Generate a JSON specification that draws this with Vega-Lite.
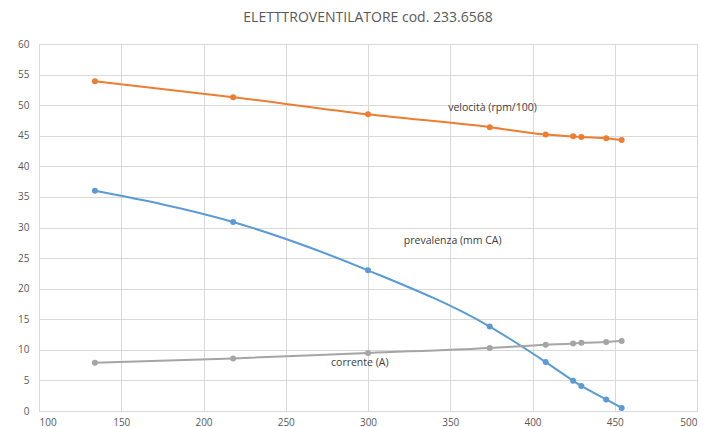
{
  "$schema": "https://vega.github.io/schema/vega-lite/v6.json",
  "autosize": {"type": "none"},
  "width": 658,
  "height": 367,
  "padding": {"left": 39, "top": 44, "right": 15, "bottom": 16},
  "background": "white",
  "title": {
    "text": "ELETTTROVENTILATORE  cod. 233.6568",
    "font": "Open Sans",
    "fontSize": 14,
    "fontWeight": "normal",
    "color": "#595959",
    "anchor": "middle",
    "offset": 14
  },
  "config": {
    "view": {"stroke": null},
    "axis": {
      "labelFont": "Open Sans",
      "labelFontSize": 10,
      "labelColor": "#595959",
      "gridColor": "#D9D9D9",
      "gridWidth": 1,
      "ticks": false,
      "title": null,
      "labelOverlap": false
    }
  },
  "datasets": {
    "series": [
      {"q": 134, "v": 53.9, "s": "velocità"},
      {"q": 218, "v": 51.3, "s": "velocità"},
      {"q": 300, "v": 48.5, "s": "velocità"},
      {"q": 374, "v": 46.4, "s": "velocità"},
      {"q": 408, "v": 45.2, "s": "velocità"},
      {"q": 424.7, "v": 44.9, "s": "velocità"},
      {"q": 429.7, "v": 44.8, "s": "velocità"},
      {"q": 444.8, "v": 44.6, "s": "velocità"},
      {"q": 454.2, "v": 44.3, "s": "velocità"},
      {"q": 134, "v": 36.0, "s": "prevalenza"},
      {"q": 218, "v": 30.9, "s": "prevalenza"},
      {"q": 300, "v": 23.0, "s": "prevalenza"},
      {"q": 374, "v": 13.8, "s": "prevalenza"},
      {"q": 408, "v": 8.0, "s": "prevalenza"},
      {"q": 424.7, "v": 4.95, "s": "prevalenza"},
      {"q": 429.7, "v": 4.1, "s": "prevalenza"},
      {"q": 444.8, "v": 1.9, "s": "prevalenza"},
      {"q": 454.2, "v": 0.5, "s": "prevalenza"},
      {"q": 134, "v": 7.9, "s": "corrente"},
      {"q": 218, "v": 8.6, "s": "corrente"},
      {"q": 300, "v": 9.5, "s": "corrente"},
      {"q": 374, "v": 10.3, "s": "corrente"},
      {"q": 408, "v": 10.85, "s": "corrente"},
      {"q": 424.7, "v": 11.05, "s": "corrente"},
      {"q": 429.7, "v": 11.15, "s": "corrente"},
      {"q": 444.8, "v": 11.27, "s": "corrente"},
      {"q": 454.2, "v": 11.43, "s": "corrente"}
    ],
    "labels": [
      {"q": 375.7, "v": 49.6, "t": "velocità (rpm/100)"},
      {"q": 351.5, "v": 27.8, "t": "prevalenza (mm CA)"},
      {"q": 295, "v": 7.9, "t": "corrente (A)"}
    ]
  },
  "encoding": {
    "x": {"field": "q", "type": "quantitative", "scale": {"domain": [100, 500], "nice": false}, "axis": {"values": [100, 150, 200, 250, 300, 350, 400, 450, 500], "labelPadding": 6, "domainColor": "#D9D9D9"}},
    "y": {"field": "v", "type": "quantitative", "scale": {"domain": [0, 60], "nice": false}, "axis": {"values": [0, 5, 10, 15, 20, 25, 30, 35, 40, 45, 50, 55, 60], "labelPadding": 10, "domain": false}}
  },
  "layer": [
    {
      "data": {"name": "series"},
      "mark": {"type": "line", "interpolate": "monotone", "strokeWidth": 2, "point": {"size": 36, "filled": true, "opacity": 1}},
      "encoding": {
        "color": {"field": "s", "type": "nominal", "scale": {"domain": ["velocità", "prevalenza", "corrente"], "range": ["#ED7D31", "#5B9BD5", "#A5A5A5"]}, "legend": null},
        "detail": {"field": "s"}
      }
    },
    {
      "data": {"name": "labels"},
      "mark": {"type": "text", "font": "Open Sans", "fontSize": 10.5, "color": "#404040", "align": "center", "baseline": "middle"},
      "encoding": {
        "text": {"field": "t"}
      }
    }
  ]
}
